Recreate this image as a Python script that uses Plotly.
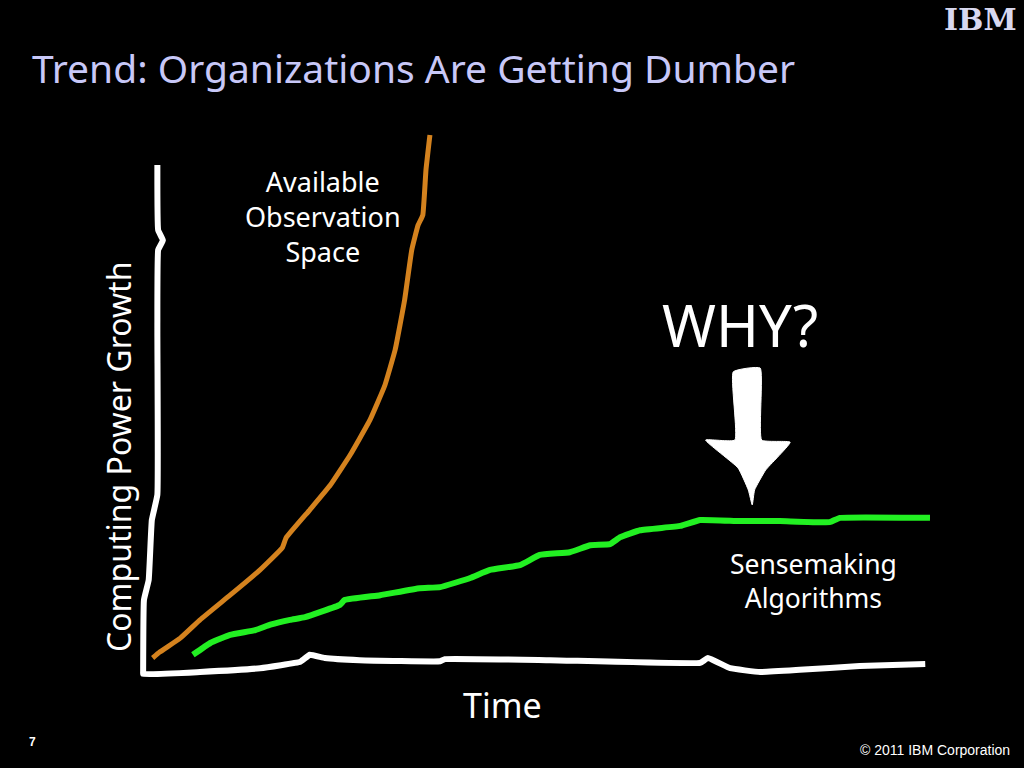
import plotly.graph_objects as go

# ---- data (time units 0-100, growth units 0-100) ----
orange_t = [1.6, 2.5, 5.1, 7.6, 11.4, 15.2, 18.0, 18.5, 21.5, 24.1, 26.6, 29.1, 31.0, 32.3, 33.5, 34.4, 35.2, 35.8, 36.2, 36.7]
orange_g = [2.6, 3.7, 6.3, 9.7, 14.3, 19.0, 23.1, 25.0, 30.2, 34.8, 40.4, 46.9, 53.4, 60.0, 69.3, 78.6, 83.2, 85.1, 93.5, 100.0]

green_t = [6.7, 8.9, 11.4, 14.6, 16.5, 19.0, 20.9, 25.3, 25.9, 30.4, 35.4, 38.0, 41.8, 44.3, 48.1, 50.6,
           54.4, 57.0, 59.5, 60.8, 63.3, 68.4, 70.9, 75.9, 81.0, 87.3, 88.6, 100.0]
green_g = [3.2, 5.4, 6.9, 7.8, 8.8, 9.7, 10.2, 12.5, 13.4, 14.3, 15.6, 15.8, 17.5, 19.0, 19.9, 21.8,
           22.3, 23.6, 23.8, 25.1, 26.4, 27.2, 28.3, 28.1, 28.1, 27.9, 28.7, 28.7]

axis_t = [2.2, 2.3, 2.9, 2.3, 2.2, 2.2, 1.5, 1.1, 0.5, 0.4, 0.4, 7.6, 15.2, 20.3, 21.5, 23.4, 27.8, 38.0, 38.6,
          51.9, 70.9, 71.9, 74.7, 78.5, 83.5, 91.1, 99.4]
axis_g = [94.4, 82.3, 80.4, 78.6, 63.7, 33.0, 28.3, 17.1, 13.4, 0.0, -0.4, 0.0, 0.7, 1.9, 3.2, 2.6, 2.2, 2.0, 2.4,
          2.2, 1.7, 2.6, 0.7, 0.0, 0.4, 1.1, 1.5]

arrow_t = [75.1, 78.5, 78.7, 82.3, 79.2, 77.8, 77.5, 77.0, 75.7, 71.6, 75.3, 75.1]
arrow_g = [55.9, 56.6, 43.2, 42.8, 37.6, 33.9, 31.1, 33.9, 38.0, 43.2, 43.2, 55.9]

title = "Trend: Organizations Are Getting Dumber"
y_label = "Computing Power Growth"
x_label = "Time"

FONT = "Noto Sans"

fig = go.Figure()
fig.add_trace(go.Scatter(x=axis_t, y=axis_g, mode="lines",
                         line=dict(color="white", width=6, shape="spline", smoothing=0.3),
                         hoverinfo="skip", showlegend=False))
fig.add_trace(go.Scatter(x=orange_t, y=orange_g, mode="lines",
                         line=dict(color="#d4821e", width=5, shape="spline", smoothing=0.3),
                         hoverinfo="skip", showlegend=False))
fig.add_trace(go.Scatter(x=green_t, y=green_g, mode="lines",
                         line=dict(color="#22f022", width=6, shape="spline", smoothing=0.3),
                         hoverinfo="skip", showlegend=False))
fig.add_trace(go.Scatter(x=arrow_t, y=arrow_g, mode="lines", fill="toself", fillcolor="white",
                         line=dict(color="white", width=1, shape="spline", smoothing=0.4),
                         hoverinfo="skip", showlegend=False))

# axis ranges chosen so that the plot fills the slide
fig.update_xaxes(range=[-17.72, 111.9], visible=False, fixedrange=True)
fig.update_yaxes(range=[-17.88, 125.14], visible=False, fixedrange=True)

ann = []
def txt(text, x, y, size, color="white", family=FONT, xanchor="center", textangle=0, **kw):
    ann.append(dict(text=text, x=x, y=y, xref="paper", yref="paper", showarrow=False,
                    font=dict(size=size, color=color, family=family), xanchor=xanchor,
                    yanchor="middle", textangle=textangle, **kw))

txt(title, 30 / 1024, 1 - 68 / 768, 39, color="#c8c8f8", xanchor="left")
txt("Available<br>Observation<br>Space", 323 / 1024, 1 - 216 / 768, 27)
txt("WHY?", 740 / 1024, 1 - 325 / 768, 58)
txt("Sensemaking<br>Algorithms", 813 / 1024, 1 - 581 / 768, 26.5)
txt(x_label, 502 / 1024, 1 - 705 / 768, 34)
txt(y_label, 118 / 1024, 1 - 457 / 768, 32, textangle=-90)
txt("<b>7</b>", 32 / 1024, 1 - 742 / 768, 12, family="Liberation Sans")
txt("© 2011 IBM Corporation", 1012 / 1024, 1 - 750 / 768, 14, family="Liberation Sans", xanchor="right")
txt("<b>IBM</b>", 980 / 1024, 1 - 20 / 768, 30, color="#d8d8f0", family="DejaVu Serif")

shapes = []
for i in range(8):
    yy = 1 - (7 + i * 3.8) / 768
    shapes.append(dict(type="line", xref="paper", yref="paper", x0=940 / 1024, x1=1020 / 1024,
                       y0=yy, y1=yy, line=dict(color="black", width=1.3)))

fig.update_layout(width=1024, height=768, margin=dict(l=0, r=0, t=0, b=0),
                  paper_bgcolor="black", plot_bgcolor="black",
                  annotations=ann, shapes=shapes, showlegend=False)

fig.write_html("out.html", config={"displayModeBar": False},
               post_script="document.body.style.margin='0';document.body.style.background='black';")
